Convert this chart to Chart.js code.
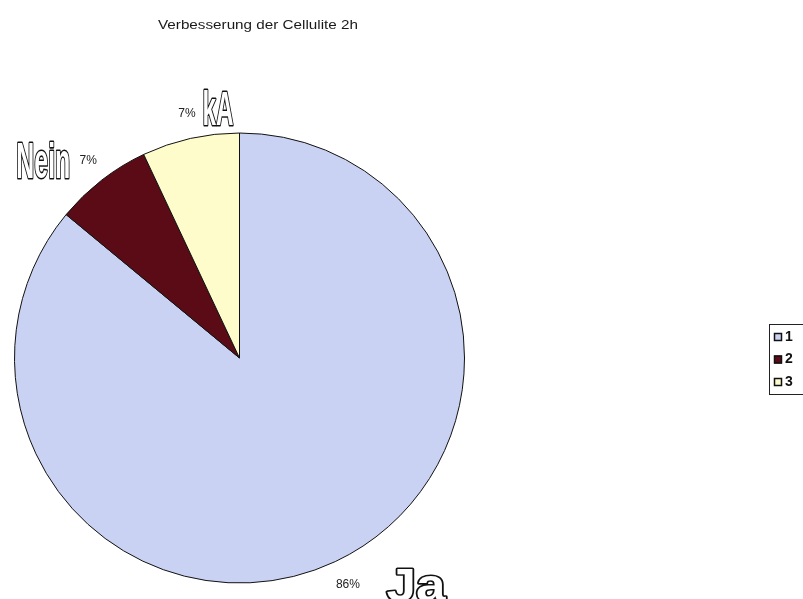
<!DOCTYPE html>
<html lang="de">
<head>
  <meta charset="UTF-8" />
  <title>Verbesserung der Cellulite 2h</title>
  <script src="https://cdn.jsdelivr.net/npm/chart.js"></script>
  <style>
    body { margin: 0; background: #fff; }
    #chart { display: block; }
  </style>
</head>
<body>
  <canvas id="chart" width="803" height="599"></canvas>

  <script>
    // data
    const chartTitle = "Verbesserung der Cellulite 2h";
    const categories = ["1", "2", "3"];
    const sliceNames = ["Ja", "Nein", "kA"];
    const shares = [86, 7, 7];
    const sliceColors = ["#c9d2f2", "#5a0b16", "#fdfcca"];

    // where each name sits relative to its percent label, and how big it is drawn
    const nameStyle = [
      { dx: 70, dy: 0, cap: 33, width: 59 },
      { dx: -43, dy: 0, cap: 36, width: 54 },
      { dx: 33, dy: -6, cap: 34, width: 31 }
    ];

    function outlinedText(ctx, text, cx, baseline, cap, width) {
      const size = cap / 0.716;
      ctx.save();
      ctx.font = "bold " + size + "px Arial, 'Liberation Sans', sans-serif";
      const w = ctx.measureText(text).width;
      ctx.translate(cx, baseline);
      ctx.scale(width / w, 1);
      ctx.textAlign = "center";
      ctx.textBaseline = "alphabetic";
      ctx.lineJoin = "round";
      ctx.strokeStyle = "#111";
      ctx.lineWidth = 3.2;
      ctx.strokeText(text, 0, 0);
      ctx.fillStyle = "#fff";
      ctx.fillText(text, 0, 0);
      ctx.restore();
    }

    const decorations = {
      id: "decorations",
      afterDraw(chart) {
        const ctx = chart.ctx;
        const meta = chart.getDatasetMeta(0);
        const total = shares.reduce((a, b) => a + b, 0);

        // title
        ctx.save();
        ctx.font = "12px Arial, 'Liberation Sans', sans-serif";
        ctx.fillStyle = "#1a1a1a";
        const tw = ctx.measureText(chartTitle).width;
        ctx.translate(258, 29);
        ctx.scale(200 / tw, 1);
        ctx.textAlign = "center";
        ctx.fillText(chartTitle, 0, 0);
        ctx.restore();

        // percent + name labels at the middle of each slice
        meta.data.forEach((arc, i) => {
          const mid = (arc.startAngle + arc.endAngle) / 2;
          const r = arc.outerRadius + 25;
          const px = arc.x + Math.cos(mid) * r;
          const py = arc.y + Math.sin(mid) * r;
          const pct = Math.round(shares[i] / total * 100) + "%";
          ctx.save();
          ctx.font = "12px Arial, 'Liberation Sans', sans-serif";
          ctx.fillStyle = "#222";
          ctx.textAlign = "center";
          ctx.textBaseline = "middle";
          ctx.fillText(pct, px + 2, py);
          ctx.restore();
          const s = nameStyle[i];
          outlinedText(ctx, sliceNames[i], px + s.dx, py + s.cap / 2 + s.dy, s.cap, s.width);
        });

        // legend box, cut off by the right edge
        ctx.save();
        ctx.strokeStyle = "#222";
        ctx.lineWidth = 1;
        ctx.strokeRect(769.5, 324.5, 40, 70);
        ctx.font = "bold 14px Arial, 'Liberation Sans', sans-serif";
        ctx.textBaseline = "middle";
        categories.forEach((c, i) => {
          const y = 337 + i * 22.5;
          ctx.fillStyle = sliceColors[i];
          ctx.fillRect(774, y - 4, 8, 8);
          ctx.strokeStyle = "#111";
          ctx.lineWidth = 1.5;
          ctx.strokeRect(774.5, y - 3.5, 7, 7);
          ctx.fillStyle = "#111";
          ctx.fillText(c, 785, y);
        });
        ctx.restore();
      }
    };

    new Chart(document.getElementById("chart"), {
      type: "pie",
      data: {
        labels: categories,
        datasets: [{
          data: shares,
          backgroundColor: sliceColors,
          borderColor: "#111",
          borderWidth: 1
        }]
      },
      options: {
        responsive: false,
        animation: false,
        layout: { padding: { left: 14, top: 132, right: 338, bottom: 15 } },
        plugins: {
          legend: { display: false },
          title: { display: false },
          tooltip: { enabled: false }
        }
      },
      plugins: [decorations]
    });
  </script>
</body>
</html>
